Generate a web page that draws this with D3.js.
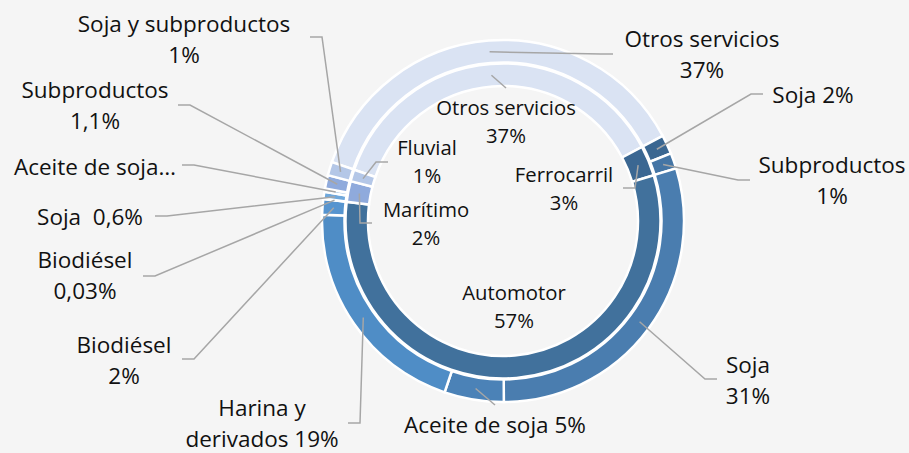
<!DOCTYPE html>
<head>
<meta charset="utf-8">
<title>Transporte de soja</title>
<script src="https://d3js.org/d3.v7.min.js"></script>
<style type="text/css">
body { margin: 0; background: #f5f5f5; }
text { font-family: "Open Sans", Lato, sans-serif; fill: #111111; white-space: pre; }
</style>
</head>

<body>
<script type="text/javascript">

// data - inner ring (modo de transporte)
const innerNames = ["Otros servicios", "Ferrocarril", "Automotor", "Marítimo", "Fluvial"];
const innerValues = [36.9, 3.1, 56.6, 2.13, 1.2];
const innerLabels = [["Otros servicios", "37%"], ["Ferrocarril", "3%"], ["Automotor", "57%"], ["Marítimo", "2%"], ["Fluvial", "1%"]];

// data - outer ring (producto)
const outerNames = ["Otros servicios", "Soja", "Subproductos", "Soja", "Aceite de soja", "Harina y derivados",
                    "Biodiésel", "Biodiésel", "Soja", "Aceite de soja", "Subproductos", "Soja y subproductos"];
const outerValues = [36.9, 1.7, 1.4, 29.6, 5.3, 20.3, 1.4, 0.03, 0.6, 0.3, 1.2, 1.2];
const outerLabels = [["Otros servicios", "37%"], ["Soja 2%"], ["Subproductos", "1%"], ["Soja", "31%"], ["Aceite de soja 5%"],
                     ["Harina y", "derivados 19%"], ["Biodiésel", "2%"], ["Biodiésel", "0,03%"], ["Soja  0,6%"],
                     ["Aceite de soja…"], ["Subproductos", "1,1%"], ["Soja y subproductos", "1%"]];

// colours
const innerColors = ["#dae3f3", "#3b6792", "#41719c", "#8faadc", "#b4c7e7"];
const outerColors = ["#dae3f3", "#3b6791", "#4475a5", "#4a7daf", "#4b82b7", "#4f8dc6",
                     "#5694cf", "#5b9bd5", "#6fa8dc", "#9dc3e6", "#8faadc", "#b4c7e7"];

// layout
const svgW = 909, svgH = 453;
const cx = 503, cy = 221;
const startDeg = -71;
// label: x = text centre, y = first baseline, a = leader attach point, side = where the leader comes from
const outerLayout = [
    {x: 702, y: 47, a: [613, 54], side: "l"},
    {x: 813, y: 103, a: [763, 94], side: "l"},
    {x: 832, y: 173, a: [750, 180], side: "l"},
    {x: 748, y: 373, a: [717, 379], side: "l"},
    {x: 495, y: 433, a: [495, 405], side: "t"},
    {x: 262, y: 416, a: [348, 423], side: "r"},
    {x: 124, y: 353, a: [182, 359], side: "r"},
    {x: 85, y: 268, a: [143, 276], side: "r"},
    {x: 90, y: 225, a: [155, 216], side: "r"},
    {x: 95, y: 175, a: [182, 165], side: "r"},
    {x: 95, y: 98, a: [178, 105], side: "r"},
    {x: 184, y: 32, a: [310, 37], side: "r"}
];
const innerLayout = [
    {x: 506, y: 115, a: [506, 88], side: "t"},
    {x: 564, y: 182, a: [623, 188], side: "r"},
    {x: 514, y: 300, a: null, side: null},
    {x: 426, y: 217, a: [372, 223], side: "l"},
    {x: 427, y: 155, a: [388, 162], side: "l"}
];

const svg = d3.select("body")
    .append("svg")
    .attr("width", svgW)
    .attr("height", svgH);

svg.append("rect").attr("width", svgW).attr("height", svgH).attr("fill", "#f5f5f5");

const pie = d3.pie()
    .sort(null)
    .value(d => d)
    .startAngle(startDeg * Math.PI / 180)
    .endAngle((startDeg + 360) * Math.PI / 180);

const g = svg.append("g").attr("transform", "translate(" + [cx, cy] + ")");

function ring(values, colors, r0, r1, cls) {
    const arc = d3.arc().innerRadius(r0).outerRadius(r1);
    g.selectAll("path." + cls)
        .data(pie(values))
        .enter()
        .append("path")
        .attr("class", cls)
        .attr("d", arc)
        .attr("fill", (d, i) => colors[i])
        .attr("stroke", "#ffffff")
        .attr("stroke-width", 2.5);
    // middle of the ring, for the leader lines
    return d3.arc().innerRadius((r0 + r1) / 2).outerRadius((r0 + r1) / 2);
}

const outerMid = ring(outerValues, outerColors, 158.5, 181, "outer");
const innerMid = ring(innerValues, innerColors, 135, 157.5, "inner");

function labels(values, texts, layout, midArc, fontSize, lineH) {
    const arcs = pie(values);
    arcs.forEach((d, i) => {
        const L = layout[i];
        if (L.a) {
            const c = midArc.centroid(d);
            const p0 = [cx + c[0], cy + c[1]];
            let pts;
            if (L.side === "t") pts = [p0, L.a];
            else {
                const elbow = [L.a[0] + (L.side === "r" ? 12 : -12), L.a[1]];
                pts = [p0, elbow, L.a];
            }
            svg.append("path")
                .attr("d", d3.line()(pts))
                .attr("fill", "none")
                .attr("stroke", "#a6a6a6")
                .attr("stroke-width", 1.5);
        }
        const t = svg.append("text")
            .attr("text-anchor", "middle")
            .attr("font-size", fontSize);
        texts[i].forEach((s, j) => {
            t.append("tspan").attr("x", L.x).attr("y", L.y + j * lineH).text(s);
        });
    });
}

labels(outerValues, outerLabels, outerLayout, outerMid, 22.5, 31);
labels(innerValues, innerLabels, innerLayout, innerMid, 20.3, 28);

</script>
</body>
